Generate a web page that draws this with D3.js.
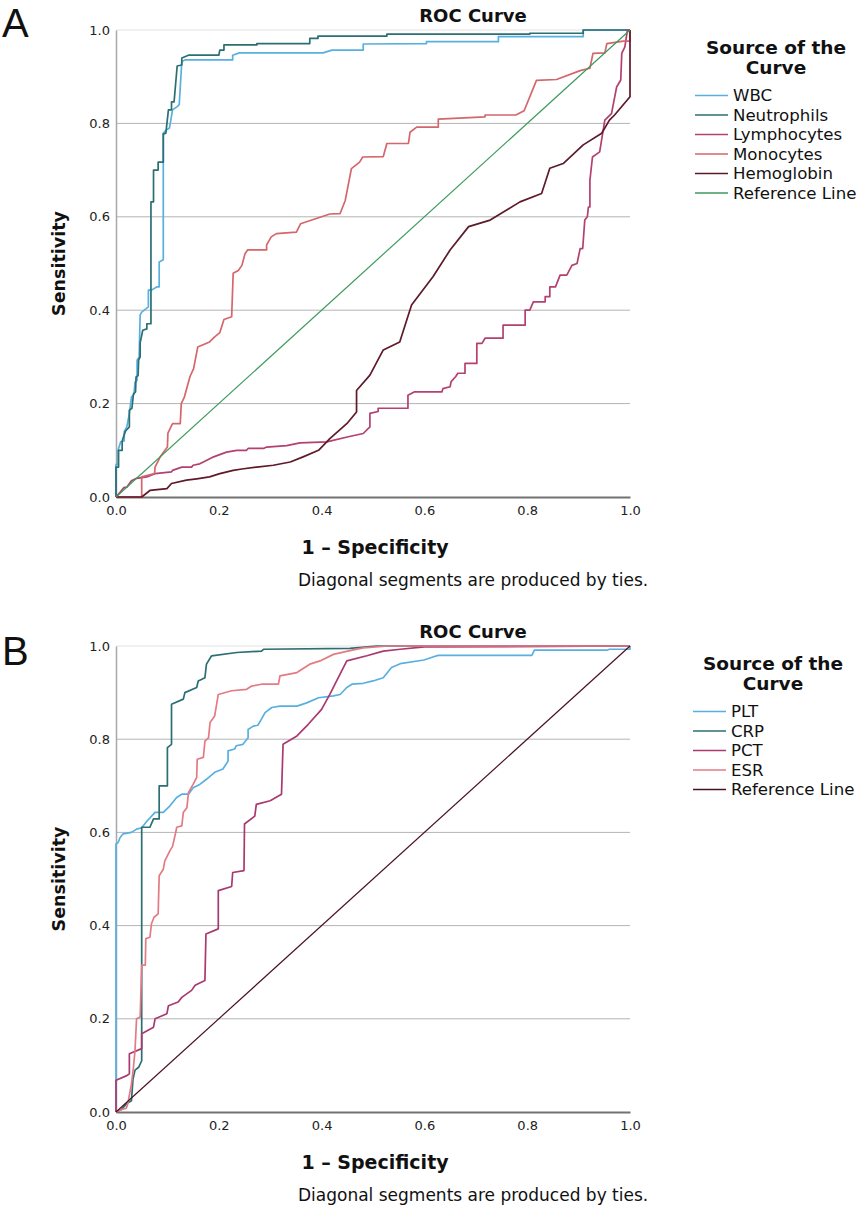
<!DOCTYPE html>
<html>
<head>
<meta charset="utf-8">
<script src="https://cdn.jsdelivr.net/npm/d3@7"></script>
<style>
  body { margin: 0; background: #fff; }
  text { font-family: "DejaVu Sans", sans-serif; fill: #111; }
</style>
</head>
<body>
<div id="chart"></div>
<script>
// axis ticks (both axes)
const tickValues = [0, 0.2, 0.4, 0.6, 0.8, 1.0];

// ---- panel A curves, points are [1 - specificity, sensitivity] ----
const wbc = [[0,0],[0,0.07],[0.004,0.07],[0.004,0.1],[0.009,0.118],[0.016,0.12],[0.016,0.14],[0.021,0.15],
  [0.026,0.179],[0.03,0.214],[0.035,0.22],[0.037,0.246],[0.041,0.25],[0.041,0.293],[0.045,0.3],[0.047,0.39],
  [0.05,0.396],[0.063,0.407],[0.063,0.443],[0.069,0.443],[0.08,0.45],[0.084,0.45],[0.084,0.503],[0.092,0.508],
  [0.092,0.779],[0.098,0.786],[0.104,0.79],[0.11,0.829],[0.119,0.836],[0.123,0.84],[0.128,0.932],[0.134,0.936],
  [0.227,0.936],[0.227,0.946],[0.24,0.951],[0.403,0.951],[0.42,0.957],[0.481,0.957],[0.481,0.97],[0.604,0.971],
  [0.604,0.975],[0.744,0.975],[0.744,0.986],[0.909,0.986],[0.909,1.0],[1,1]];

const neutrophils = [[0,0],[0,0.064],[0.005,0.064],[0.005,0.1],[0.012,0.1],[0.012,0.12],[0.018,0.14],[0.02,0.143],
  [0.026,0.15],[0.026,0.186],[0.031,0.19],[0.034,0.221],[0.038,0.225],[0.039,0.257],[0.043,0.26],[0.044,0.293],
  [0.047,0.3],[0.047,0.33],[0.052,0.357],[0.06,0.36],[0.06,0.371],[0.068,0.371],[0.068,0.632],[0.073,0.632],
  [0.073,0.70],[0.082,0.70],[0.082,0.717],[0.092,0.717],[0.092,0.777],[0.097,0.779],[0.102,0.829],[0.108,0.829],
  [0.108,0.846],[0.113,0.846],[0.119,0.923],[0.128,0.925],[0.128,0.94],[0.141,0.946],[0.2,0.946],[0.202,0.957],
  [0.21,0.957],[0.21,0.968],[0.274,0.968],[0.274,0.971],[0.377,0.971],[0.377,0.982],[0.393,0.982],[0.393,0.987],
  [0.527,0.987],[0.527,0.991],[0.805,0.991],[0.805,0.993],[0.909,0.993],[0.909,1.0],[1,1]];

const lymphocytes = [[0,0],[0.008,0.01],[0.015,0.02],[0.021,0.021],[0.03,0.035],[0.04,0.04],[0.06,0.043],
  [0.076,0.05],[0.108,0.054],[0.11,0.057],[0.128,0.064],[0.147,0.064],[0.15,0.068],[0.163,0.071],[0.17,0.075],
  [0.19,0.086],[0.215,0.096],[0.235,0.1],[0.254,0.1],[0.257,0.104],[0.287,0.104],[0.293,0.107],[0.332,0.11],
  [0.358,0.116],[0.41,0.118],[0.452,0.129],[0.481,0.136],[0.494,0.15],[0.494,0.179],[0.51,0.183],[0.51,0.19],
  [0.568,0.19],[0.568,0.218],[0.58,0.225],[0.634,0.225],[0.636,0.232],[0.65,0.236],[0.652,0.247],[0.661,0.258],
  [0.665,0.265],[0.679,0.265],[0.679,0.286],[0.702,0.286],[0.702,0.329],[0.712,0.329],[0.718,0.34],[0.753,0.34],
  [0.753,0.368],[0.796,0.368],[0.796,0.4],[0.805,0.4],[0.812,0.418],[0.835,0.418],[0.835,0.429],[0.844,0.429],
  [0.844,0.45],[0.855,0.45],[0.864,0.475],[0.877,0.475],[0.887,0.496],[0.897,0.5],[0.903,0.532],[0.908,0.532],
  [0.912,0.593],[0.917,0.6],[0.919,0.621],[0.922,0.621],[0.922,0.678],[0.927,0.728],[0.941,0.739],[0.951,0.807],
  [0.964,0.821],[0.974,0.878],[0.982,0.893],[0.984,0.95],[0.99,0.964],[0.995,1.0],[1,1]];

const monocytes = [[0,0],[0.05,0],[0.05,0.043],[0.075,0.05],[0.076,0.064],[0.086,0.086],[0.1,0.107],[0.101,0.137],
  [0.11,0.157],[0.125,0.157],[0.127,0.2],[0.133,0.214],[0.144,0.258],[0.151,0.275],[0.159,0.321],[0.182,0.332],
  [0.192,0.343],[0.202,0.352],[0.21,0.38],[0.225,0.386],[0.228,0.479],[0.238,0.485],[0.245,0.496],[0.251,0.521],
  [0.256,0.529],[0.293,0.529],[0.293,0.54],[0.302,0.557],[0.312,0.564],[0.351,0.567],[0.359,0.585],[0.416,0.606],
  [0.436,0.607],[0.446,0.635],[0.458,0.703],[0.474,0.717],[0.48,0.728],[0.52,0.729],[0.527,0.757],[0.569,0.757],
  [0.572,0.781],[0.585,0.792],[0.627,0.792],[0.627,0.809],[0.718,0.814],[0.718,0.818],[0.778,0.818],[0.794,0.827],
  [0.818,0.892],[0.857,0.894],[0.903,0.913],[0.922,0.918],[0.928,0.95],[0.951,0.951],[0.955,0.971],[0.987,0.976],
  [1,0.976],[1,1]];

const hemoglobin = [[0,0],[0.05,0],[0.066,0.014],[0.099,0.018],[0.108,0.029],[0.137,0.036],[0.157,0.039],
  [0.182,0.043],[0.202,0.05],[0.228,0.057],[0.245,0.06],[0.274,0.064],[0.306,0.068],[0.339,0.075],[0.364,0.086],
  [0.394,0.1],[0.416,0.125],[0.449,0.157],[0.468,0.182],[0.468,0.228],[0.494,0.261],[0.52,0.315],[0.552,0.332],
  [0.575,0.411],[0.617,0.472],[0.65,0.529],[0.686,0.579],[0.728,0.593],[0.786,0.632],[0.828,0.65],[0.844,0.704],
  [0.87,0.714],[0.909,0.754],[0.945,0.779],[0.96,0.807],[0.97,0.818],[1,0.857],[1,1]];

// ---- panel B curves ----
const plt = [[0,0],[0,0.575],[0.004,0.578],[0.008,0.589],[0.014,0.597],[0.03,0.6],[0.04,0.607],[0.05,0.61],
  [0.06,0.624],[0.076,0.643],[0.092,0.643],[0.105,0.657],[0.118,0.675],[0.128,0.682],[0.141,0.682],[0.15,0.696],
  [0.163,0.703],[0.176,0.714],[0.192,0.729],[0.208,0.736],[0.218,0.753],[0.218,0.775],[0.231,0.779],[0.234,0.786],
  [0.247,0.789],[0.257,0.803],[0.257,0.821],[0.267,0.828],[0.276,0.83],[0.283,0.843],[0.29,0.857],[0.303,0.868],
  [0.319,0.871],[0.352,0.871],[0.371,0.878],[0.394,0.889],[0.423,0.893],[0.436,0.896],[0.449,0.911],[0.459,0.918],
  [0.481,0.92],[0.5,0.925],[0.52,0.932],[0.536,0.954],[0.553,0.962],[0.599,0.97],[0.618,0.977],[0.627,0.98],
  [0.809,0.98],[0.814,0.991],[0.955,0.991],[0.96,0.993],[1,0.993],[1,1]];

const crp = [[0,0],[0.01,0.005],[0.021,0.018],[0.03,0.024],[0.033,0.07],[0.037,0.09],[0.044,0.096],[0.05,0.11],
  [0.05,0.611],[0.066,0.611],[0.073,0.629],[0.084,0.629],[0.084,0.7],[0.1,0.7],[0.1,0.782],[0.108,0.789],
  [0.108,0.875],[0.131,0.886],[0.134,0.9],[0.157,0.911],[0.16,0.925],[0.173,0.932],[0.176,0.961],[0.186,0.979],
  [0.235,0.986],[0.283,0.989],[0.287,0.993],[0.455,0.995],[0.507,1.0],[1,1]];

const pct = [[0,0],[0,0.068],[0.021,0.078],[0.026,0.082],[0.026,0.125],[0.05,0.136],[0.05,0.168],[0.073,0.182],
  [0.076,0.2],[0.099,0.211],[0.102,0.228],[0.121,0.236],[0.128,0.246],[0.147,0.261],[0.154,0.272],[0.173,0.282],
  [0.175,0.382],[0.199,0.393],[0.199,0.475],[0.225,0.484],[0.227,0.514],[0.249,0.518],[0.25,0.618],[0.27,0.635],
  [0.273,0.66],[0.3,0.668],[0.322,0.682],[0.325,0.789],[0.352,0.807],[0.374,0.832],[0.4,0.864],[0.416,0.896],
  [0.426,0.918],[0.449,0.968],[0.488,0.979],[0.52,0.989],[0.553,0.993],[0.6,0.998],[1,1]];

const esr = [[0,0],[0.01,0.005],[0.02,0.008],[0.023,0.018],[0.03,0.06],[0.034,0.096],[0.037,0.132],[0.04,0.2],
  [0.047,0.204],[0.05,0.315],[0.057,0.315],[0.058,0.372],[0.066,0.375],[0.069,0.404],[0.074,0.418],[0.082,0.425],
  [0.084,0.507],[0.092,0.521],[0.095,0.539],[0.105,0.561],[0.11,0.57],[0.117,0.604],[0.118,0.611],[0.128,0.614],
  [0.131,0.643],[0.138,0.653],[0.141,0.686],[0.15,0.703],[0.157,0.718],[0.158,0.757],[0.17,0.761],[0.173,0.796],
  [0.18,0.803],[0.183,0.836],[0.192,0.85],[0.199,0.896],[0.225,0.904],[0.254,0.907],[0.264,0.914],[0.283,0.918],
  [0.316,0.918],[0.319,0.936],[0.352,0.943],[0.377,0.961],[0.397,0.968],[0.423,0.982],[0.455,0.99],[0.481,0.996],
  [0.53,1.0],[1,1]];

const referenceLine = [[0,0],[1,1]];

const namesA = ["WBC", "Neutrophils", "Lymphocytes", "Monocytes", "Hemoglobin", "Reference Line"];
const namesB = ["PLT", "CRP", "PCT", "ESR", "Reference Line"];

const colorsA = ["#58b0e0", "#2b6f73", "#b2416f", "#d4666c", "#5e1a28", "#3d9a5e"];
const colorsB = ["#58b0e0", "#2b6f73", "#a83a70", "#e47a84", "#4a1220"];

const svgWidth = 861, svgHeight = 1213,
      plotLeft = 116, plotRight = 630;

const panels = [
  {letter: "A", top: 30, bottom: 497, letterY: 37, legendX: 776, lineX: 695,
   names: namesA, series: [wbc, neutrophils, lymphocytes, monocytes, hemoglobin, referenceLine], colors: colorsA},
  {letter: "B", top: 646, bottom: 1112, letterY: 665, legendX: 773, lineX: 693,
   names: namesB, series: [plt, crp, pct, esr, referenceLine], colors: colorsB}
];

let svg = d3.select("#chart")
  .append("svg")
  .attr("width", svgWidth)
  .attr("height", svgHeight);

const scaleX = d3.scaleLinear().domain([0, 1]).range([plotLeft, plotRight]);

panels.forEach(drawPanel);

function drawPanel(p) {
  const scaleY = d3.scaleLinear().domain([0, 1]).range([p.bottom, p.top]);
  const g = svg.append("g");

  // panel letter
  g.append("text")
    .attr("x", 2)
    .attr("y", p.letterY)
    .style("font-family", "'Liberation Sans', Arial, sans-serif")
    .style("font-size", "40px")
    .text(p.letter);

  g.append("text")
    .attr("x", 473)
    .attr("y", p.top - 8)
    .attr("text-anchor", "middle")
    .style("font-size", "18px")
    .style("font-weight", "bold")
    .text("ROC Curve");

  // horizontal grid
  g.append("g")
    .selectAll("line")
    .data(tickValues.slice(1))
    .enter()
    .append("line")
    .attr("x1", plotLeft)
    .attr("x2", plotRight)
    .attr("y1", d => scaleY(d))
    .attr("y2", d => scaleY(d))
    .attr("stroke", d => d === 1 ? "#e2e2e2" : "#b4b4b4")
    .attr("stroke-width", 1);

  let yAxis = g.append("g")
    .attr("transform", "translate(" + plotLeft + ",0)")
    .call(d3.axisLeft(scaleY).tickValues(tickValues).tickFormat(d3.format(".1f")).tickSize(0).tickPadding(6));
  yAxis.select(".domain").attr("stroke", "#a8a8a8").attr("stroke-width", 1.5);

  let xAxis = g.append("g")
    .attr("transform", "translate(0," + p.bottom + ")")
    .call(d3.axisBottom(scaleX).tickValues(tickValues).tickFormat(d3.format(".1f")).tickSize(0).tickPadding(9));
  xAxis.select(".domain").attr("stroke", "#727272").attr("stroke-width", 2);

  g.selectAll(".tick text")
    .style("font-family", "'DejaVu Sans', sans-serif")
    .style("font-size", "13px")
    .style("fill", "#222");

  // curves
  const line = d3.line()
    .x(d => scaleX(d[0]))
    .y(d => scaleY(d[1]));

  g.append("g")
    .selectAll("path")
    .data(p.series)
    .enter()
    .append("path")
    .attr("d", line)
    .attr("fill", "none")
    .attr("stroke", (d, i) => p.colors[i])
    .attr("stroke-width", (d, i) => i === p.series.length - 1 ? 1.2 : 1.7)
    .attr("stroke-linejoin", "round");

  // axis titles
  g.append("text")
    .attr("transform", "translate(65," + ((p.top + p.bottom) / 2) + ")rotate(-90)")
    .attr("text-anchor", "middle")
    .style("font-size", "17.5px")
    .style("font-weight", "bold")
    .text("Sensitivity");

  g.append("text")
    .attr("x", (plotLeft + plotRight) / 2 + 2)
    .attr("y", p.bottom + 57)
    .attr("text-anchor", "middle")
    .style("font-size", "19px")
    .style("font-weight", "bold")
    .text("1 \u2013 Specificity");

  g.append("text")
    .attr("x", 298)
    .attr("y", p.bottom + 89)
    .style("font-size", "17px")
    .text("Diagonal segments are produced by ties.");

  // legend
  const legend = g.append("g");
  legend.selectAll("text.title")
    .data(["Source of the", "Curve"])
    .enter()
    .append("text")
    .attr("class", "title")
    .attr("x", p.legendX)
    .attr("y", (d, i) => p.top + 24 + i * 20)
    .attr("text-anchor", "middle")
    .style("font-size", "18.5px")
    .style("font-weight", "bold")
    .text(d => d);

  const items = legend.selectAll("g.item")
    .data(p.names)
    .enter()
    .append("g")
    .attr("class", "item")
    .attr("transform", (d, i) => "translate(" + p.lineX + "," + (p.top + 65.5 + i * 19.5) + ")");

  items.append("line")
    .attr("x1", 0)
    .attr("x2", 33)
    .attr("stroke", (d, i) => p.colors[i])
    .attr("stroke-width", 1.3);

  items.append("text")
    .attr("x", 38)
    .attr("dy", "0.36em")
    .style("font-size", "16.6px")
    .text(d => d);
}
</script>
</body>
</html>
